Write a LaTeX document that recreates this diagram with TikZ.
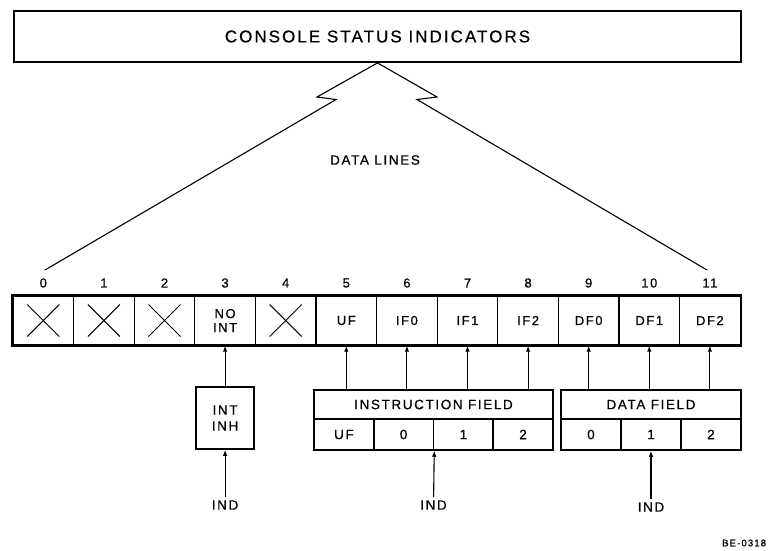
\documentclass[tikz,border=0pt]{standalone}
\usepackage{fontspec}
\setmainfont{Liberation Sans}[LetterSpace=12,FakeBold=0.7]
\usetikzlibrary{positioning,calc}
\usetikzlibrary{arrows.meta}
\tikzset{
  cell/.style={draw=black,line width=1.3pt,minimum width=60.6pt,minimum height=49pt,inner sep=0pt,
    align=center,font=\fontsize{13}{14}\selectfont},
  bitnum/.style={inner sep=1pt,font=\fontsize{13}{14}\selectfont},
  lbl/.style={inner sep=3pt,font=\fontsize{13.5}{15}\selectfont},
  fieldhead/.style={draw=black,line width=1.5pt,minimum height=29pt,inner sep=0pt,font=\fontsize{13.5}{15}\selectfont},
  fieldsub/.style={draw=black,line width=1.5pt,minimum height=31pt,inner sep=0pt,font=\fontsize{13.5}{15}\selectfont},
}
\tikzset{arr/.style={draw=black,line width=1.1pt,-{Latex[length=6pt,width=4.5pt]}}, cross/.style={line width=1pt}, dline/.style={line width=1.1pt}}

\begin{document}
\begin{tikzpicture}[x=1pt,y=-1pt]
\useasboundingbox (0,0) rectangle (774,550);
\node[draw=black,line width=1.8pt,minimum width=727pt,minimum height=51pt,inner sep=0pt,
  font=\fontsize{17}{19}\selectfont] (csi) at (377.5,36.5) {CONSOLE STATUS INDICATORS};
\coordinate (lz1) at (317,97);
\coordinate (lz2) at (336,99.5);
\coordinate (lend) at (45,270);
\coordinate (rz1) at (437,97);
\coordinate (rz2) at (417,99.5);
\coordinate (rend) at (707,270);
\draw[dline] (csi.south) -- (lz1) -- (lz2) -- (lend);
\draw[dline] (csi.south) -- (rz1) -- (rz2) -- (rend);
\node[lbl] (dlines) at (375,160) {DATA LINES};
% register cells
\node[cell] (c0) at (43.3,320.5) {};
\node[cell] (c1) at (103.9,320.5) {};
\node[cell] (c2) at (164.5,320.5) {};
\node[cell] (c3) at (225.1,320.5) {NO\\INT};
\node[cell] (c4) at (285.7,320.5) {};
\node[cell] (c5) at (346.3,320.5) {UF};
\node[cell] (c6) at (406.9,320.5) {IF0};
\node[cell] (c7) at (467.5,320.5) {IF1};
\node[cell] (c8) at (528.1,320.5) {IF2};
\node[cell] (c9) at (588.7,320.5) {DF0};
\node[cell] (c10) at (649.3,320.5) {DF1};
\node[cell] (c11) at (709.9,320.5) {DF2};
\draw[line width=2.4pt] (c0.north west) rectangle (c11.south east);
\draw[cross] ($(c0)+(-16,-16)$) -- ($(c0)+(16,16)$) ($(c0)+(-16,16)$) -- ($(c0)+(16,-16)$);
\draw[cross] ($(c1)+(-16,-16)$) -- ($(c1)+(16,16)$) ($(c1)+(-16,16)$) -- ($(c1)+(16,-16)$);
\draw[cross] ($(c2)+(-16,-16)$) -- ($(c2)+(16,16)$) ($(c2)+(-16,16)$) -- ($(c2)+(16,-16)$);
\draw[cross] ($(c4)+(-16,-16)$) -- ($(c4)+(16,16)$) ($(c4)+(-16,16)$) -- ($(c4)+(16,-16)$);
% bit numbers
\node[bitnum] (n0) at (43.3,283) {0};
\node[bitnum] (n1) at (103.9,283) {1};
\node[bitnum] (n2) at (164.5,283) {2};
\node[bitnum] (n3) at (225.1,283) {3};
\node[bitnum] (n4) at (285.7,283) {4};
\node[bitnum] (n5) at (346.3,283) {5};
\node[bitnum] (n6) at (406.9,283) {6};
\node[bitnum] (n7) at (467.5,283) {7};
\node[bitnum] (n8) at (528.1,283) {8};
\node[bitnum] (n9) at (588.7,283) {9};
\node[bitnum] (n10) at (649.3,283) {10};
\node[bitnum] (n11) at (709.9,283) {11};
% interrupt inhibit
\node[draw=black,line width=1.5pt,minimum width=58pt,minimum height=62pt,inner sep=0pt,align=center,
  font=\fontsize{13.5}{16}\selectfont] (inh) at (225.1,418) {INT\\INH};
\draw[arr] (inh.north) -- (c3.south);
% instruction field
\node[fieldhead,minimum width=239pt] (ifhead) at (433.5,404.5) {INSTRUCTION FIELD};
\node[fieldsub,minimum width=59.75pt] (ifuf) at (343.9,434.5) {UF};
\node[fieldsub,minimum width=59.75pt] (if0) at (403.6,434.5) {0};
\node[fieldsub,minimum width=59.75pt] (if1) at (463.4,434.5) {1};
\node[fieldsub,minimum width=59.75pt] (if2) at (523.1,434.5) {2};
\draw[arr] (c5 |- ifhead.north) -- (c5.south);
\draw[arr] (c6 |- ifhead.north) -- (c6.south);
\draw[arr] (c7 |- ifhead.north) -- (c7.south);
\draw[arr] (c8 |- ifhead.north) -- (c8.south);
% data field
\node[fieldhead,minimum width=180pt] (dfhead) at (651,404.5) {DATA FIELD};
\node[fieldsub,minimum width=60pt] (df0) at (591,434.5) {0};
\node[fieldsub,minimum width=60pt] (df1) at (651,434.5) {1};
\node[fieldsub,minimum width=60pt] (df2) at (711,434.5) {2};
\draw[arr] (c9 |- dfhead.north) -- (c9.south);
\draw[arr] (c10 |- dfhead.north) -- (c10.south);
\draw[arr] (c11 |- dfhead.north) -- (c11.south);
% indicator inputs
\node[lbl] (ind1) at (225.1,505) {IND};
\node[lbl] (ind2) at (433.5,505) {IND};
\node[lbl] (ind3) at (651,507) {IND};
\draw[arr] (ind1) -- (inh.south);
\draw[arr] (ind2) -- (if0.south east);
\draw[arr] (ind3) -- (df1.south);
\node[inner sep=0pt,anchor=west,font=\fontsize{9.5}{10}\selectfont] (fig) at (722,543) {BE-0318};
\end{tikzpicture}
\end{document}
